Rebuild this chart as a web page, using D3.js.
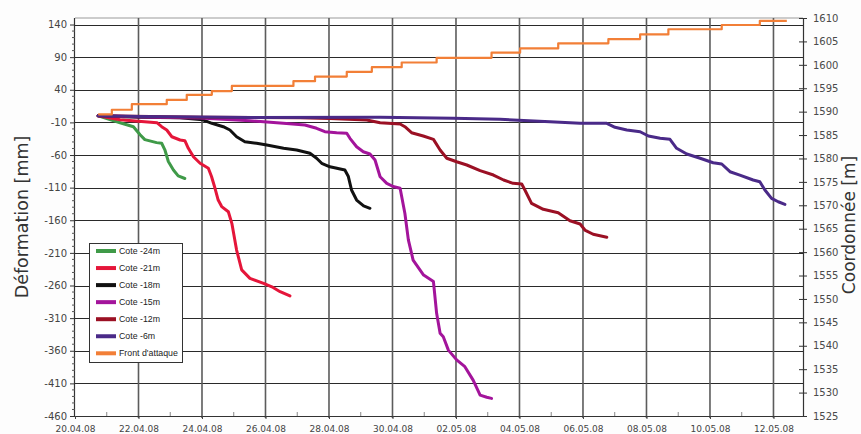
<!DOCTYPE html>
<html><head><meta charset="utf-8">
<script src="https://cdn.jsdelivr.net/npm/d3@7"></script>
<style>
html,body{margin:0;padding:0;background:#fdfdfd;}
svg{display:block;}
</style></head>
<body><svg id="chart" width="861" height="434"></svg>
<script>
// ---- data (day offsets since 20.04.08 00:00, values) ----
const seriesNames = ["Cote -24m","Cote -21m","Cote -18m","Cote -15m","Cote -12m","Cote -6m","Front d'attaque"];
const seriesColors = ["#3f9a48","#e5163a","#111111","#a3149b","#9b1024","#4a2a88","#f27f37"];

const cote24 = [[0.73,0],[1.42,-10.5],[1.84,-16.6],[2.05,-29],[2.2,-36.4],[2.57,-41],[2.73,-42],[2.83,-52],[2.94,-70],[3.1,-83],[3.25,-92],[3.46,-96]];
const cote21 = [[0.73,0],[1.42,-6],[2.58,-10.5],[2.73,-16.6],[2.89,-21.7],[3.05,-32],[3.31,-37],[3.46,-38],[3.57,-49.7],[3.73,-62.6],[3.94,-72.7],[4.2,-80.4],[4.3,-93],[4.41,-111],[4.51,-129],[4.62,-139],[4.83,-147],[4.94,-164.7],[5.09,-205.6],[5.25,-236],[5.51,-249],[5.94,-256.6],[6.2,-262],[6.46,-269.5],[6.77,-276]];
const cote18 = [[0.73,0],[2.0,-2],[3.3,-3],[4.03,-6],[4.31,-11.4],[4.67,-16.6],[4.88,-21.7],[5.09,-32],[5.35,-39.6],[5.72,-42],[6.04,-44.7],[6.57,-49.7],[6.98,-52.3],[7.4,-57.4],[7.61,-65],[7.77,-72.7],[8.03,-78],[8.5,-83],[8.61,-93],[8.71,-113.6],[8.87,-129],[9.09,-138],[9.29,-141.7]];
const cote15 = [[0.73,0],[2.5,-2],[3.94,-3.3],[5.51,-7.4],[6.56,-11.4],[7.24,-14],[7.61,-19],[7.87,-24.3],[8.24,-25.8],[8.56,-26.7],[8.66,-34.4],[8.87,-47.3],[9.08,-55],[9.29,-58.5],[9.45,-67.7],[9.61,-93.3],[9.82,-103.4],[10.02,-108.3],[10.24,-111],[10.39,-149.3],[10.5,-190],[10.65,-221],[10.98,-244],[11.29,-254],[11.39,-302.6],[11.5,-333],[11.6,-338.5],[11.76,-359],[12.02,-374],[12.28,-384.4],[12.54,-405],[12.76,-428],[12.97,-431.3],[13.12,-433]];
const cote12 = [[0.73,0],[4.0,-2],[7.09,-3],[8.03,-4],[9.19,-6.4],[9.61,-10.5],[10.24,-12.5],[10.39,-16.6],[10.6,-25.8],[10.97,-30.9],[11.29,-36],[11.5,-52.3],[11.71,-65],[12.02,-70.3],[12.34,-75.3],[12.76,-84],[13.18,-90.7],[13.5,-98.3],[13.8,-103.4],[14.07,-104.4],[14.17,-113.6],[14.38,-134],[14.75,-143.2],[15.22,-148.4],[15.59,-160.7],[15.91,-165.8],[16.06,-175],[16.32,-181.5],[16.75,-186]];
const cote6 = [[0.73,0],[2.05,-1],[5.51,-2.5],[9.61,-2.2],[11.91,-3.8],[13.39,-5.3],[14.96,-9],[15.91,-11.4],[16.75,-11.4],[17.01,-17.5],[17.38,-21.7],[17.8,-24.3],[18.06,-30.9],[18.43,-34.4],[18.74,-36],[18.95,-49.7],[19.27,-58.5],[19.69,-65],[20.1,-71.8],[20.37,-73.8],[20.63,-85.6],[20.94,-90.7],[21.36,-98.3],[21.57,-101],[21.73,-113.6],[21.94,-126.4],[22.15,-131.6],[22.36,-135.6]];
// Front d'attaque (coordinate in m, right axis), step values
const front = [[0.73,1589.4],[1.16,1590.4],[1.79,1591.6],[2.89,1592.5],[3.52,1593.6],[4.31,1594.4],[4.94,1595.5],[6.88,1596.5],[7.56,1597.5],[8.56,1598.5],[9.35,1599.5],[10.29,1600.5],[11.39,1601.5],[13.12,1602.6],[14.02,1603.5],[15.22,1604.6],[16.8,1605.5],[17.8,1606.5],[18.69,1607.6],[20.37,1608.5],[21.57,1609.4],[22.42,1609.4]];

const leftTicks = [140,90,40,-10,-60,-110,-160,-210,-260,-310,-360,-410,-460];
const rightTicks = [1525,1530,1535,1540,1545,1550,1555,1560,1565,1570,1575,1580,1585,1590,1595,1600,1605,1610];
const xTickLabels = ["20.04.08","22.04.08","24.04.08","26.04.08","28.04.08","30.04.08","02.05.08","04.05.08","06.05.08","08.05.08","10.05.08","12.05.08"];
const startDate = new Date(2008,3,20);
const xEndDay = 22.93;
const leftDomain = [-460,150];
const rightDomain = [1525,1610];

// ---- layout ----
const L = 75, R = 803, T = 18, B = 416;
const svg = d3.select("#chart");
const dayToDate = d => new Date(startDate.getTime() + d*86400000);
const x = d3.scaleTime().domain([startDate, dayToDate(xEndDay)]).range([L,R]);
const yL = d3.scaleLinear().domain(leftDomain).range([B,T]);
const yR = d3.scaleLinear().domain(rightDomain).range([B,T]);
const xTickDates = xTickLabels.map(s => { const [dd,mm,yy] = s.split("."); return new Date(2000+ +yy, +mm-1, +dd); });

// plot background
svg.append("rect").attr("x",L).attr("y",T).attr("width",R-L).attr("height",B-T).attr("fill","#fff");
// top border
svg.append("line").attr("x1",L).attr("x2",R).attr("y1",T).attr("y2",T).attr("stroke","#9a9a9a").attr("stroke-width",1);

// horizontal grid
svg.append("g").selectAll("line").data(leftTicks.slice(0,-1)).join("line")
  .attr("x1",L).attr("x2",R).attr("y1",d=>Math.round(yL(d))+0.5).attr("y2",d=>Math.round(yL(d))+0.5)
  .attr("stroke","#2a2a2a").attr("stroke-width",1.2);
// vertical grid
svg.append("g").selectAll("line").data(xTickDates.slice(1)).join("line")
  .attr("x1",d=>x(d)).attr("x2",d=>x(d)).attr("y1",T).attr("y2",B+2)
  .attr("stroke","#5c5c5c").attr("stroke-width",1.6);

// left axis
const gL = svg.append("g").attr("transform",`translate(${L},0)`)
  .call(d3.axisLeft(yL).tickValues(leftTicks).tickSize(5).tickPadding(3).tickFormat(d=>String(d)));
gL.select(".domain").attr("d",`M-0.5,${T}V${B}`).attr("stroke","#333").attr("stroke-width",1.2);
gL.selectAll(".tick line").attr("stroke","#333");
gL.selectAll("text").attr("font-family","DejaVu Sans, Verdana, sans-serif").attr("font-size",10).attr("fill","#444");
// left minor ticks
svg.append("g").selectAll("line").data(d3.range(-450,150,10).filter(v=>!leftTicks.includes(v))).join("line")
  .attr("x1",L-3).attr("x2",L).attr("y1",d=>yL(d)).attr("y2",d=>yL(d)).attr("stroke","#555").attr("stroke-width",1);

// right axis
const gR = svg.append("g").attr("transform",`translate(${R},0)`)
  .call(d3.axisRight(yR).tickValues(rightTicks).tickSize(4).tickPadding(6).tickFormat(d=>String(d)));
gR.select(".domain").attr("d",`M0.5,${T}V${B}`).attr("stroke","#333").attr("stroke-width",1.2);
gR.selectAll(".tick line").attr("x1",-4).attr("stroke","#333");
gR.selectAll("text").attr("font-family","DejaVu Sans, Verdana, sans-serif").attr("font-size",10).attr("fill","#4a4a4a");

// bottom axis
const gB = svg.append("g").attr("transform",`translate(0,${B})`)
  .call(d3.axisBottom(x).tickValues(xTickDates).tickSize(3).tickPadding(7).tickFormat((d,i)=>xTickLabels[i]));
gB.select(".domain").attr("d",`M${L},0.5H${R}`).attr("stroke","#333").attr("stroke-width",1.2);
gB.selectAll(".tick line").attr("stroke","#444");
gB.selectAll("text").attr("font-family","DejaVu Sans, Verdana, sans-serif").attr("font-size",9).attr("fill","#444");
// minor x ticks (odd days)
svg.append("g").selectAll("line").data(d3.range(1,23,2).map(dayToDate)).join("line")
  .attr("x1",d=>x(d)).attr("x2",d=>x(d)).attr("y1",B-4).attr("y2",B).attr("stroke","#888").attr("stroke-width",1);

// axis titles
svg.append("text").attr("transform",`translate(28,${(T+B)/2}) rotate(-90)`).attr("text-anchor","middle")
  .attr("font-family","DejaVu Sans, Verdana, sans-serif").attr("font-size",17.5).attr("fill","#333").text("Déformation [mm]");
svg.append("text").attr("transform",`translate(855,${(T+B)/2+8}) rotate(-90)`).attr("text-anchor","middle")
  .attr("font-family","DejaVu Sans, Verdana, sans-serif").attr("font-size",17).attr("fill","#333").text("Coordonnée [m]");

// series lines
const lineL = d3.line().x(d=>x(dayToDate(d[0]))).y(d=>yL(d[1])).curve(d3.curveLinear);
const lineR = d3.line().x(d=>x(dayToDate(d[0]))).y(d=>yR(d[1])).curve(d3.curveStepAfter);
const leftSeries = [cote24,cote21,cote18,cote15,cote12,cote6];
leftSeries.forEach((s,i)=>{
  svg.append("path").datum(s).attr("d",lineL).attr("fill","none").attr("stroke",seriesColors[i])
    .attr("stroke-width",3).attr("stroke-linejoin","round").attr("stroke-linecap","round");
});
svg.append("path").datum(front).attr("d",lineR).attr("fill","none").attr("stroke",seriesColors[6])
  .attr("stroke-width",2.2).attr("stroke-linejoin","round");

// legend
const lg = svg.append("g");
lg.append("rect").attr("x",89.5).attr("y",243.5).attr("width",93).attr("height",119).attr("fill","#fff").attr("stroke","#333").attr("stroke-width",1);
seriesNames.forEach((n,i)=>{
  const yy = 251 + i*17.05;
  lg.append("line").attr("x1",96).attr("x2",116).attr("y1",yy).attr("y2",yy).attr("stroke",seriesColors[i]).attr("stroke-width",4);
  lg.append("text").attr("x",119).attr("y",yy).attr("dy","0.35em").attr("font-family","Liberation Sans, Arial, sans-serif")
    .attr("font-size",8.8).attr("fill","#222").text(n);
});
</script></body></html>
